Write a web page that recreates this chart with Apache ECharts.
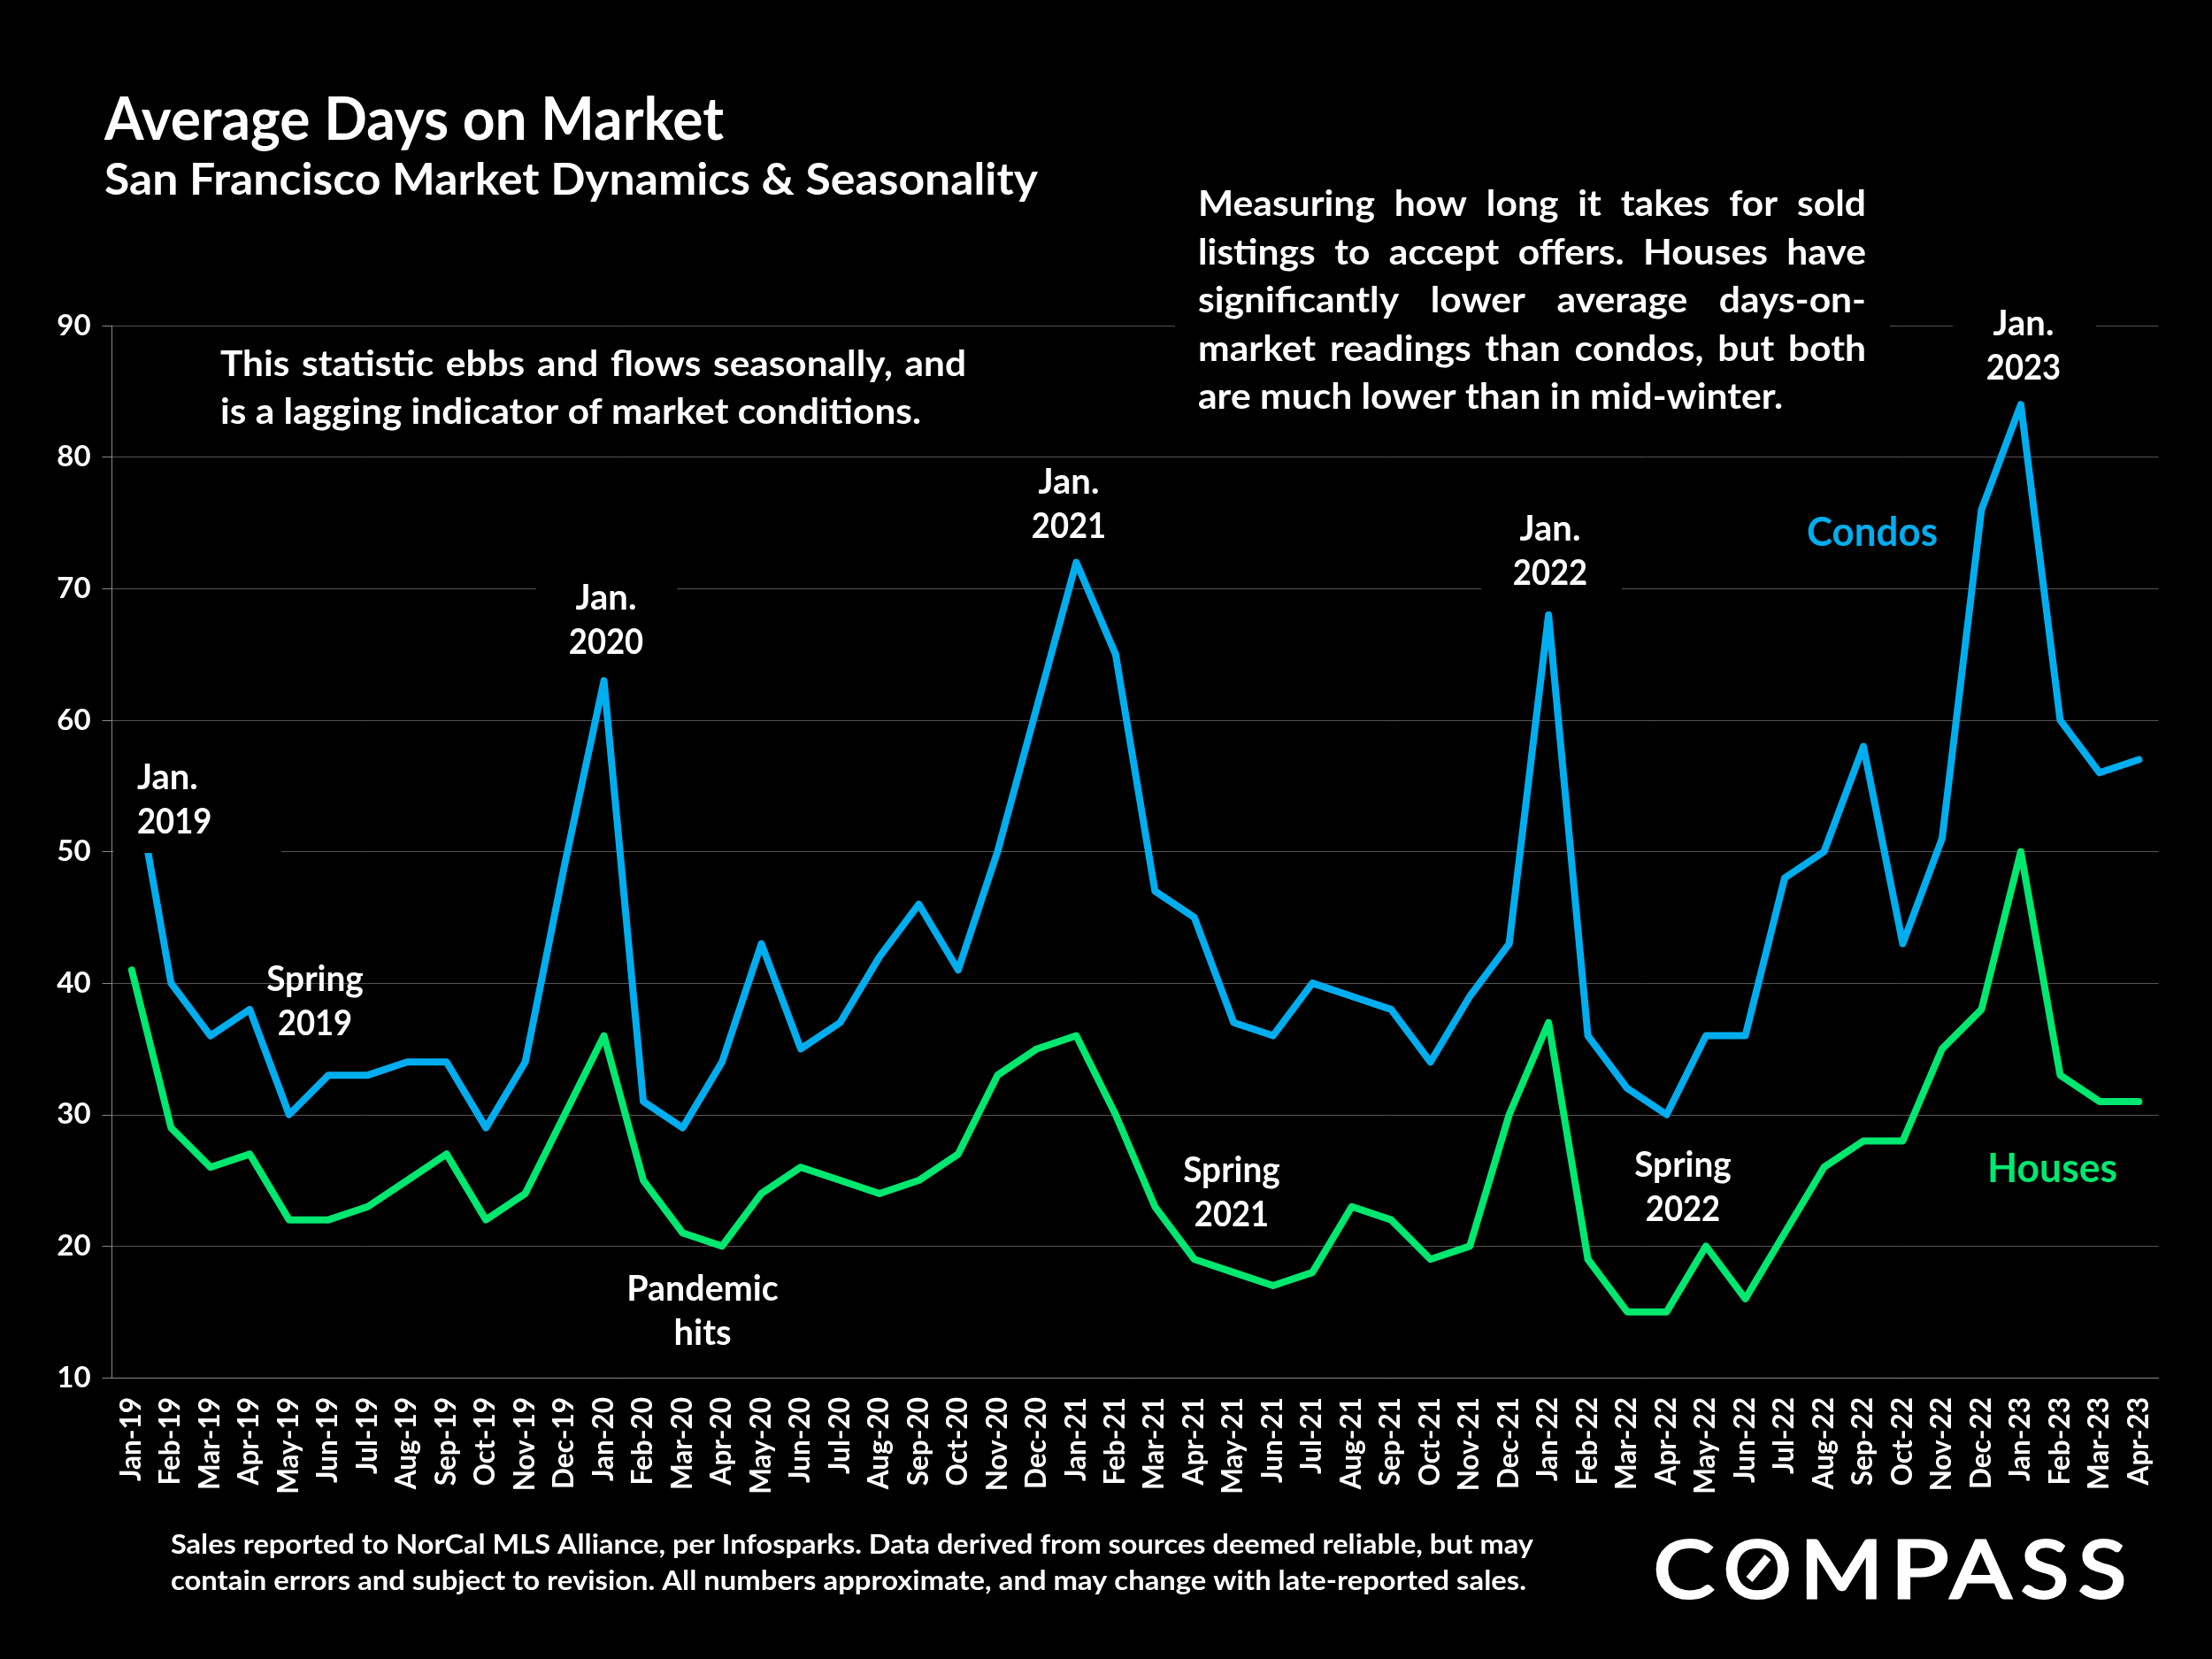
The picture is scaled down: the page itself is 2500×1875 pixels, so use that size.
<!DOCTYPE html>
<html>
<head>
<meta charset="utf-8">
<title>Average Days on Market</title>
<script src="https://cdn.jsdelivr.net/npm/echarts@6/dist/echarts.min.js"></script>
<style>
  html, body { margin: 0; padding: 0; background: #000; }
  #chart { width: 2500px; height: 1875px; }
</style>
</head>
<body>
<div id="chart"></div>
<script>
const months = [
  'Jan-19','Feb-19','Mar-19','Apr-19','May-19','Jun-19','Jul-19','Aug-19','Sep-19','Oct-19','Nov-19','Dec-19',
  'Jan-20','Feb-20','Mar-20','Apr-20','May-20','Jun-20','Jul-20','Aug-20','Sep-20','Oct-20','Nov-20','Dec-20',
  'Jan-21','Feb-21','Mar-21','Apr-21','May-21','Jun-21','Jul-21','Aug-21','Sep-21','Oct-21','Nov-21','Dec-21',
  'Jan-22','Feb-22','Mar-22','Apr-22','May-22','Jun-22','Jul-22','Aug-22','Sep-22','Oct-22','Nov-22','Dec-22',
  'Jan-23','Feb-23','Mar-23','Apr-23'
];
const condos = [
  57,40,36,38,30,33,33,34,34,29,34,49,
  63,31,29,34,43,35,37,42,46,41,50,61,
  72,65,47,45,37,36,40,39,38,34,39,43,
  68,36,32,30,36,36,48,50,58,43,51,76,
  84,60,56,57
];
const houses = [
  41,29,26,27,22,22,23,25,27,22,24,30,
  36,25,21,20,24,26,25,24,25,27,33,35,
  36,30,23,19,18,17,18,23,22,19,20,30,
  37,19,15,15,20,16,21,26,28,28,35,38,
  50,33,31,31
];

const FONT = 'Lato, "Noto Sans", sans-serif';
const BLUE = '#00AEEF';
const GREEN = '#00E86F';
const NOTE_SIZE = 41;
const MARK_SIZE = 40;

const measureCtx = document.createElement('canvas').getContext('2d');

function fontOf(size, weight) {
  return (weight || 'bold') + ' ' + size + 'px ' + FONT;
}

function textWidth(str, size, weight) {
  measureCtx.font = fontOf(size, weight);
  return measureCtx.measureText(str).width;
}

// distance from the middle of the em box down to the alphabetic baseline
function baselineOffset(size, weight) {
  measureCtx.font = fontOf(size, weight);
  measureCtx.textBaseline = 'middle';
  const m = measureCtx.measureText('Hg');
  measureCtx.textBaseline = 'alphabetic';
  return m.alphabeticBaseline !== undefined ? Math.abs(m.alphabeticBaseline) : size * 0.35;
}

function label(str, x, baseline, opt) {
  opt = opt || {};
  const size = opt.size || MARK_SIZE;
  const scale = opt.width ? opt.width / textWidth(str, size, opt.weight) : (opt.scale || 1);
  return {
    type: 'text',
    silent: true,
    z: 110,
    x: x,
    y: baseline + 1.5 - baselineOffset(size, opt.weight),
    scaleX: scale,
    style: {
      x: 0,
      y: 0,
      text: str,
      font: fontOf(size, opt.weight),
      fill: opt.color || '#fff',
      stroke: opt.stroke ? '#fff' : null,
      lineWidth: opt.stroke || 0,
      textAlign: opt.align || 'left',
      textVerticalAlign: 'middle'
    }
  };
}

// one word at a time so the line fills the box, like the slide's justified text
function justified(str, x, baseline, width, size, scale) {
  const words = str.split(' ');
  const widths = words.map(w => textWidth(w, size) * scale);
  const gap = (width - widths.reduce((a, b) => a + b, 0)) / (words.length - 1);
  let cx = x;
  return words.map((w, i) => {
    const item = label(w, cx, baseline, { size: size, scale: scale });
    cx += widths[i] + gap;
    return item;
  });
}

// fit the ink of a logo letter between x and x + width
function logoLetter(ch, x, baseline, width, size) {
  measureCtx.font = fontOf(size, 'normal');
  const m = measureCtx.measureText(ch);
  const scale = width / (m.actualBoundingBoxLeft + m.actualBoundingBoxRight);
  return label(ch, x + m.actualBoundingBoxLeft * scale, baseline, { size: size, scale: scale, weight: 'normal', stroke: 3 });
}

// black boxes behind the Jan. labels and the note, they hide gridlines like in the slide
function box(x0, y0, x1, y1) {
  return {
    type: 'rect',
    silent: true,
    z: 100,
    shape: { x: x0, y: y0, width: x1 - x0, height: y1 - y0 },
    style: { fill: '#000' }
  };
}

function pair(top, bottom, x, baseline, topScale, align) {
  const a = align || 'center';
  return [
    label(top, x, baseline, { scale: topScale, align: a }),
    label(bottom, x, baseline + 50, { scale: /\d/.test(bottom) ? 0.91 : 1, align: a })
  ];
}

function buildGraphics() {
  const out = [
    box(129, 854, 318, 964),
    box(606, 650, 765, 752),
    box(1129, 518, 1288, 620),
    box(1674, 572, 1833, 672),
    box(2207, 340, 2369, 440),
    box(1328, 205, 2136, 480)
  ];

  out.push(label('Average Days on Market', 118, 156, { size: 66, width: 700 }));
  out.push(label('San Francisco Market Dynamics & Seasonality', 118, 218, { size: 50, width: 1055 }));

  const s1 = 792 / textWidth('is a lagging indicator of market conditions.', NOTE_SIZE);
  out.push(...justified('This statistic ebbs and flows seasonally, and', 249, 423, 843, NOTE_SIZE, s1));
  out.push(label('is a lagging indicator of market conditions.', 249, 477, { size: NOTE_SIZE, scale: s1 }));

  const s2 = 661 / textWidth('are much lower than in mid-winter.', NOTE_SIZE);
  out.push(...justified('Measuring how long it takes for sold', 1354, 242, 755, NOTE_SIZE, s2));
  out.push(...justified('listings to accept offers. Houses have', 1354, 297, 755, NOTE_SIZE, s2));
  out.push(...justified('significantly lower average days-on-', 1354, 351, 755, NOTE_SIZE, s2));
  out.push(...justified('market readings than condos, but both', 1354, 406, 755, NOTE_SIZE, s2));
  out.push(label('are much lower than in mid-winter.', 1354, 460, { size: NOTE_SIZE, scale: s2 }));

  out.push(...pair('Jan.', '2019', 155, 890, 1, 'left'));
  out.push(...pair('Spring', '2019', 356, 1118, 0.97));
  out.push(...pair('Jan.', '2020', 685, 687, 1));
  out.push(...pair('Pandemic', 'hits', 794, 1468, 0.985));
  out.push(...pair('Jan.', '2021', 1208, 556, 1));
  out.push(...pair('Spring', '2021', 1392, 1334, 0.97));
  out.push(...pair('Jan.', '2022', 1752, 609, 1));
  out.push(...pair('Spring', '2022', 1902, 1328, 0.97));
  out.push(...pair('Jan.', '2023', 2287, 377, 1));

  out.push(label('Condos', 2042, 615, { size: 45, width: 148, color: BLUE }));
  out.push(label('Houses', 2246, 1334, { size: 45, width: 147, color: GREEN }));

  out.push(label('Sales reported to NorCal MLS Alliance, per Infosparks. Data derived from sources deemed reliable, but may', 193, 1754, { size: 31, width: 1540 }));
  out.push(label('contain errors and subject to revision. All numbers approximate, and may change with late-reported sales.', 193, 1795, { size: 31, width: 1532 }));

  // logo
  const logoLetters = [['C', 1873, 63], ['O', 1952, 69], ['M', 2043, 76], ['P', 2146, 54], ['A', 2204, 70], ['S', 2287, 47], ['S', 2352, 47]];
  logoLetters.forEach(l => out.push(logoLetter(l[0], l[1], 1804, l[2], 92)));
  out.push({
    type: 'line',
    silent: true,
    z: 110,
    shape: { x1: 1977, y1: 1785, x2: 1998, y2: 1760 },
    style: { stroke: '#fff', lineWidth: 9 }
  });
  return out;
}

const axisText = { color: '#fff', fontFamily: FONT, fontWeight: 'bold' };

function seriesOf(name, values, color) {
  return {
    name: name,
    type: 'line',
    data: values,
    symbol: 'none',
    smooth: false,
    z: 5,
    lineStyle: { color: color, width: 8, cap: 'round', join: 'round' }
  };
}

const chart = echarts.init(document.getElementById('chart'), null, { width: 2500, height: 1875 });
chart.setOption({
  backgroundColor: '#000',
  animation: false,
  grid: { left: 126.6, right: 60.4, top: 368, bottom: 318, containLabel: false },
  xAxis: {
    type: 'category',
    data: months,
    boundaryGap: true,
    axisLine: { lineStyle: { color: '#8a8a8a', width: 1 } },
    axisTick: { length: 11, alignWithLabel: false, lineStyle: { color: '#8a8a8a', width: 1 } },
    axisLabel: { ...axisText, fontSize: 31.5, rotate: 90, interval: 0, margin: 22, padding: [9, 0, 0, 0] },
    splitLine: { show: false }
  },
  yAxis: {
    type: 'value',
    min: 10,
    max: 90,
    interval: 10,
    axisLine: { show: true, lineStyle: { color: '#8a8a8a', width: 1 } },
    axisTick: { show: true, length: 11, lineStyle: { color: '#8a8a8a', width: 1 } },
    axisLabel: { ...axisText, fontSize: 33, margin: 24 },
    splitLine: { show: true, lineStyle: { color: '#555', width: 1 } }
  },
  series: [
    seriesOf('Condos', condos, BLUE),
    seriesOf('Houses', houses, GREEN)
  ],
  graphic: buildGraphics()
});
</script>
</body>
</html>
